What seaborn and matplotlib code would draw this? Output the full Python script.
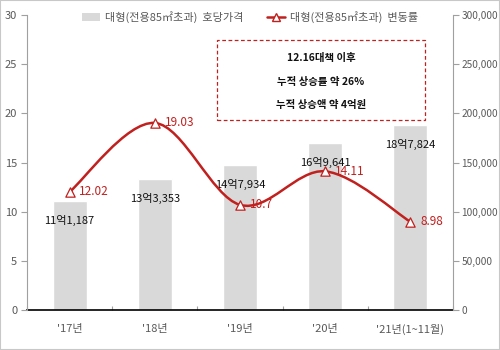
import matplotlib
matplotlib.use("Agg")
import matplotlib.pyplot as plt
import seaborn as sns
import pandas as pd
import numpy as np
from matplotlib.path import Path
from matplotlib.patches import PathPatch, Patch, Rectangle
from matplotlib.lines import Line2D

categories = ["'17년", "'18년", "'19년", "'20년", "'21년(1~11월)"]
prices = [111187, 133353, 147934, 169641, 187824]
price_labels = ["11억1,187", "13억3,353", "14억7,934", "16억9,641", "18억7,824"]
rates = [12.02, 19.03, 10.7, 14.11, 8.98]
rate_labels = ["12.02", "19.03", "10.7", "14.11", "8.98"]
box_lines = ["12.16대책 이후", "누적 상승률 약 26%", "누적 상승액 약 4억원"]
bar_name = "대형(전용85㎡초과)  호당가격"
line_name = "대형(전용85㎡초과)  변동률"

sns.set_theme(style="white")
plt.rcParams['font.family'] = ['Noto Sans CJK KR', 'DejaVu Sans']

BAR = "#d9d9d9"
RED = "#c0201e"
TXT = "#595959"

df = pd.DataFrame({"cat": categories, "price": prices, "rate": rates})

fig = plt.figure(figsize=(5, 3.5), dpi=100)
ax = fig.add_axes([0.054, 0.114, 0.852, 0.843])
sns.barplot(data=df, x="cat", y="price", color=BAR, width=0.4, ax=ax, saturation=1)
ax.set_xlim(-0.5, 4.5)
ax.set_ylim(0, 300000)
ax.set_xlabel("")
ax.set_ylabel("")

for i, (p, lab) in enumerate(zip(prices, price_labels)):
    ax.annotate(lab, (i, p), xytext=(0, -14), textcoords="offset points",
                ha="center", va="center", fontsize=8, color="#111111")

ax2 = ax.twinx()
ax2.set_ylim(0, 30)
ax2.yaxis.tick_left()
ax2.set_yticks(np.arange(0, 31, 5))
ax.yaxis.tick_right()
ax.set_yticks(np.arange(0, 300001, 50000))
ax.set_yticklabels([f"{v:,}" for v in range(0, 300001, 50000)])

# smooth line via Bezier (Catmull-Rom) through data points
xs = np.arange(len(rates), dtype=float)
ys = np.array(rates, dtype=float)
P = np.column_stack([xs, ys])
Pext = np.vstack([P[0], P, P[-1]])
verts = [tuple(P[0])]
codes = [Path.MOVETO]
for i in range(len(P) - 1):
    p0, p1, p2, p3 = Pext[i], Pext[i + 1], Pext[i + 2], Pext[i + 3]
    c1 = p1 + (p2 - p0) / 6
    c2 = p2 - (p3 - p1) / 6
    verts += [tuple(c1), tuple(c2), tuple(p2)]
    codes += [Path.CURVE4] * 3
ax2.add_patch(PathPatch(Path(verts, codes), facecolor="none", edgecolor=RED, lw=1.8, zorder=3))
sns.scatterplot(x=xs, y=ys, marker="^", s=45, facecolor="white", edgecolor=RED,
                linewidth=0.9, ax=ax2, zorder=4)
for i, (r, lab) in enumerate(zip(rates, rate_labels)):
    ax2.annotate(lab, (i, r), xytext=(7, 0), textcoords="offset points",
                 ha="left", va="center", fontsize=8.5, color=RED)

for a in (ax, ax2):
    for s in a.spines.values():
        s.set_visible(False)
    a.tick_params(axis="y", labelsize=8, labelcolor=TXT, length=4, width=0.8, color="#a0a0a0", pad=3)
    a.grid(False)
ax.tick_params(axis="y", labelsize=7.3, pad=2)

ax2.spines["left"].set_visible(True)
ax2.spines["left"].set_color("#a0a0a0")
ax2.spines["left"].set_linewidth(0.8)
ax2.spines["right"].set_visible(True)
ax2.spines["right"].set_color("#a0a0a0")
ax2.spines["right"].set_linewidth(0.8)
ax.spines["bottom"].set_visible(True)
ax.spines["bottom"].set_color("black")
ax.spines["bottom"].set_linewidth(1.2)
ax.set_xticks(range(len(categories)))
ax.set_xticklabels(categories)
ax.tick_params(axis="x", labelsize=8, labelcolor=TXT, length=0, pad=10)
ax.set_xticks(np.arange(-0.5, 4.6, 1), minor=True)
ax.tick_params(axis="x", which="minor", direction="in", length=3, color="#a0a0a0", width=0.8, bottom=True)

# dashed annotation box
box = Rectangle((217 / 500, 1 - 120 / 350), (425 - 217) / 500, (120 - 40) / 350,
                transform=fig.transFigure, facecolor="white", edgecolor=RED,
                ls=(0, (3, 2)), lw=0.9, zorder=5)
fig.add_artist(box)
for yy, t in zip([58, 82, 105], box_lines):
    fig.text(321 / 500, 1 - yy / 350, t, ha="center", va="center", fontsize=7.5,
             fontweight="bold", color="#111111", zorder=6)

handles = [Patch(facecolor=BAR, edgecolor="none"),
           Line2D([0], [0], color=RED, lw=1.8, marker="^", markersize=6,
                  markerfacecolor="white", markeredgecolor=RED)]
fig.legend(handles, [bar_name, line_name], loc="center", bbox_to_anchor=(0.5, 1 - 17 / 350),
           ncol=2, frameon=False, fontsize=8, labelcolor=TXT, handlelength=1.6,
           columnspacing=2.2, handletextpad=0.4)

fig.patches.append(Rectangle((0, 0), 1, 1, transform=fig.transFigure, fill=False,
                             edgecolor="#c8c8c8", lw=1.5))
fig.savefig("out.png", dpi=100)
